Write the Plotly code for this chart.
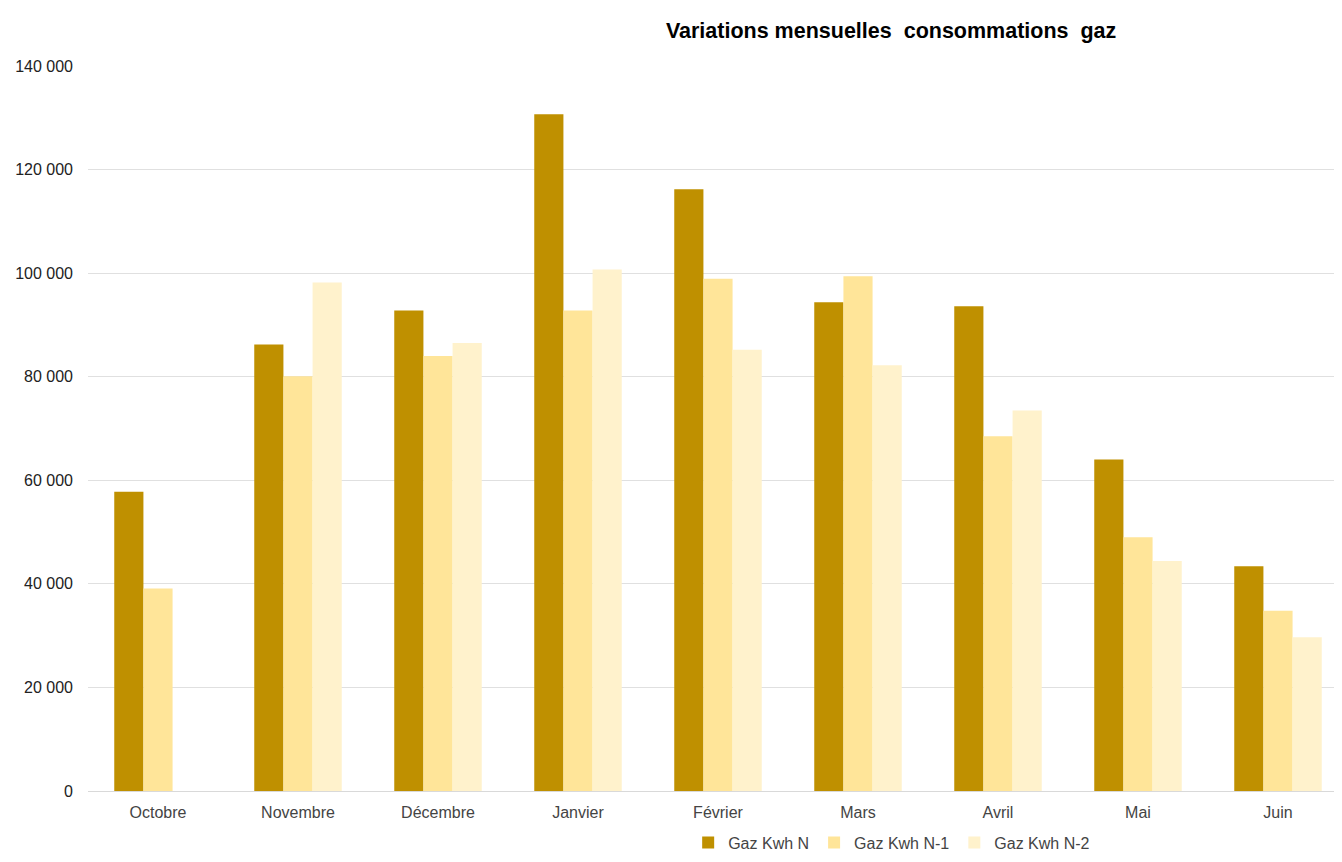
import plotly.graph_objects as go

# ── Data ────────────────────────────────────────────────────────────────────
MONTHS = ["Octobre", "Novembre", "Décembre", "Janvier", "Février",
          "Mars", "Avril", "Mai", "Juin"]
GAZ_N = [57800, 86200, 92800, 130700, 116200, 94400, 93600, 64000, 43400]
GAZ_N1 = [39100, 80100, 84000, 92800, 98900, 99400, 68500, 49000, 34800]
GAZ_N2 = [None, 98200, 86500, 100700, 85200, 82200, 73500, 44400, 29700]

SERIES = [
    ("Gaz Kwh N", GAZ_N, "#bf9000"),
    ("Gaz Kwh N-1", GAZ_N1, "#ffe599"),
    ("Gaz Kwh N-2", GAZ_N2, "#fff2cc"),
]

FONT = "Arial, Liberation Sans, sans-serif"

fig = go.Figure()
for name, values, color in SERIES:
    fig.add_trace(go.Bar(
        x=MONTHS,
        y=values,
        name=name,
        marker=dict(color=color, line=dict(width=0)),
    ))

# page body keeps an 8px margin, so the figure is sized to fit inside it
fig.update_layout(
    width=1326,
    height=846,
    barmode="group",
    bargap=0.375,
    bargroupgap=0,
    separators=", ",
    plot_bgcolor="white",
    paper_bgcolor="white",
    font=dict(family=FONT, color="#222"),
    title=dict(
        text="<b>Variations mensuelles  consommations  gaz</b>",
        font=dict(size=21.5, family=FONT, color="#000"),
        x=0.666, xanchor="center", xref="container",
        y=0.974, yanchor="middle", yref="container",
    ),
    legend=dict(
        orientation="h",
        x=0.645, xanchor="center",
        y=-0.071, yanchor="middle",
        font=dict(size=16, color="#444"),
        itemwidth=30,
        traceorder="normal",
    ),
    margin=dict(l=80, r=0, t=58, b=63, autoexpand=False),
)

# last category slot runs past the right edge in the original
fig.update_xaxes(
    automargin=False,
    range=[-0.5, 8.4],
    showgrid=False,
    showline=False,
    ticks="",
    ticklabelstandoff=10,
    tickfont=dict(size=16, color="#444"),
)
fig.update_yaxes(
    automargin=False,
    range=[0, 140000],
    dtick=20000,
    tickformat=",d",
    showgrid=True,
    gridcolor="#e0e0e0",
    gridwidth=1,
    zeroline=True,
    zerolinecolor="#d9d9d9",
    zerolinewidth=1,
    ticks="",
    ticklabelstandoff=14,
    tickfont=dict(size=16, color="#222"),
)

fig.write_html("out.html")
